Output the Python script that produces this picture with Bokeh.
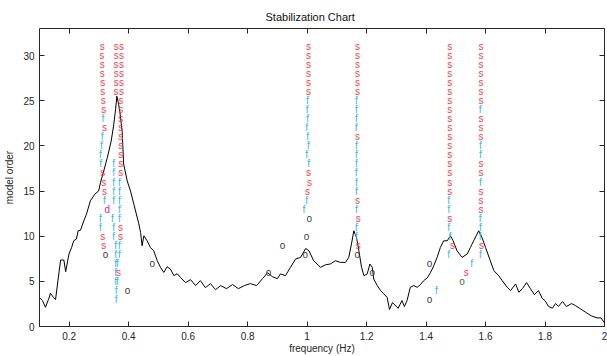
from bokeh.plotting import figure
from bokeh.models import ColumnDataSource, FixedTicker, LinearAxis, Range1d
from bokeh.embed import file_html
from bokeh.resources import INLINE
from bokeh.core.properties import value

# Averaged response spectrum, scaled into model-order units
spec_freq = [0.100, 0.110, 0.120, 0.130, 0.137, 0.147, 0.154, 0.162, 0.171, 0.182,
             0.188, 0.199, 0.208, 0.215, 0.224, 0.230, 0.238, 0.249, 0.258, 0.271,
             0.286, 0.299, 0.305, 0.316, 0.328, 0.341, 0.349, 0.356, 0.360, 0.366,
             0.370, 0.378, 0.383, 0.395, 0.406, 0.417, 0.434, 0.440, 0.445, 0.451,
             0.462, 0.473, 0.484, 0.496, 0.507, 0.518, 0.529, 0.540, 0.552, 0.563,
             0.574, 0.591, 0.608, 0.625, 0.641, 0.658, 0.675, 0.692, 0.709, 0.729,
             0.749, 0.769, 0.789, 0.809, 0.830, 0.850, 0.867, 0.883, 0.900, 0.910,
             0.927, 0.944, 0.961, 0.978, 0.995, 1.006, 1.022, 1.045, 1.062, 1.078,
             1.095, 1.112, 1.129, 1.140, 1.149, 1.157, 1.166, 1.174, 1.183, 1.191,
             1.202, 1.211, 1.219, 1.224, 1.236, 1.247, 1.258, 1.269, 1.277, 1.287,
             1.306, 1.319, 1.327, 1.336, 1.347, 1.359, 1.370, 1.381, 1.392, 1.404,
             1.415, 1.426, 1.437, 1.448, 1.459, 1.471, 1.482, 1.491, 1.504, 1.521,
             1.538, 1.549, 1.560, 1.577, 1.588, 1.600, 1.616, 1.628, 1.644, 1.656,
             1.673, 1.684, 1.701, 1.712, 1.724, 1.738, 1.751, 1.764, 1.778, 1.791,
             1.800, 1.812, 1.825, 1.835, 1.845, 1.859, 1.872, 1.889, 1.902, 1.916,
             1.936, 1.956, 1.975, 1.988, 2.000]
spec_level = [3.20, 2.87, 2.13, 2.98, 3.68, 3.20, 2.98, 5.08, 7.36, 7.36,
              6.07, 8.02, 8.75, 9.49, 9.68, 10.60, 10.67, 11.70, 12.44, 13.91,
              14.65, 15.01, 15.93, 17.22, 18.69, 20.53, 22.19, 24.06, 25.50, 24.61,
              23.84, 21.63, 17.99, 16.11, 15.01, 13.58, 11.37, 10.41, 8.94, 10.04,
              9.49, 8.75, 8.39, 7.28, 6.55, 5.99, 6.62, 6.37, 5.63, 5.85,
              5.44, 4.86, 5.19, 4.53, 5.08, 4.30, 4.75, 4.08, 4.53, 4.19,
              4.64, 4.19, 4.53, 4.75, 4.53, 5.30, 5.96, 5.52, 5.30, 5.82,
              5.63, 6.55, 7.47, 7.65, 8.64, 8.39, 7.28, 6.55, 6.84, 6.92,
              7.28, 7.10, 7.10, 7.65, 9.13, 10.60, 9.86, 8.39, 6.55, 5.63,
              5.82, 6.92, 6.55, 5.26, 4.53, 3.97, 3.61, 3.23, 1.88, 2.65,
              2.02, 2.87, 2.21, 2.87, 4.34, 4.53, 4.34, 4.64, 5.08, 5.38,
              5.99, 6.73, 7.65, 8.75, 9.49, 9.49, 10.04, 9.49, 8.39, 7.65,
              8.02, 8.75, 9.49, 10.60, 9.86, 8.75, 7.28, 6.18, 5.63, 5.08,
              4.34, 3.97, 4.71, 3.79, 4.19, 4.86, 4.19, 3.53, 3.97, 3.09,
              2.87, 2.21, 2.02, 2.54, 2.23, 2.76, 2.21, 2.54, 2.32, 2.02,
              1.59, 1.17, 0.95, 0.95, 0.40]

# Pole columns: frequency, model order and stability code
# (s = stable, f = stable frequency, d = stable damping, o = new pole)
mode1_freq = [0.311, 0.309, 0.311, 0.311, 0.313, 0.313, 0.314, 0.316, 0.313, 0.319,
              0.311, 0.308, 0.305, 0.306, 0.313, 0.316, 0.319, 0.318, 0.328, 0.305,
              0.305, 0.313, 0.316, 0.322]
mode1_order = [31, 30, 29, 28, 27, 26, 25, 24, 23, 22, 21, 20, 19, 18, 17, 16, 15, 14,
               13, 12, 11, 10, 9, 8]
mode1_code = "ssssssssfsffffsssfdffsso"

mode2_freq = [0.358, 0.358, 0.357, 0.358, 0.358, 0.357, 0.349, 0.349, 0.349, 0.349,
              0.349, 0.345, 0.349, 0.349, 0.356, 0.356, 0.356, 0.356, 0.356, 0.358,
              0.358]
mode2_order = [31, 30, 29, 28, 27, 26, 18, 17, 16, 15, 14, 12, 11, 10, 9, 8, 7, 6, 5, 4, 3]
mode2_code = "ssssssfffffffffffffff"

mode3_freq = [0.376, 0.376, 0.376, 0.376, 0.376, 0.376, 0.373, 0.373, 0.373, 0.373,
              0.373, 0.373, 0.373, 0.373, 0.373, 0.369, 0.369, 0.369, 0.369, 0.369,
              0.372, 0.372, 0.369, 0.369, 0.362, 0.366, 0.362]
mode3_order = [31, 30, 29, 28, 27, 26, 25, 24, 23, 22, 21, 20, 19, 18, 17, 16, 15, 14,
               13, 12, 11, 10, 9, 8, 7, 6, 5]
mode3_code = "sssssssssssssssfffffssfffsf"

mode4_freq = [1.005, 1.005, 1.005, 1.005, 1.005, 1.005, 1.001, 1.000, 1.002, 0.998,
              1.002, 1.004, 0.998, 1.005, 1.005, 1.008, 1.001, 0.998, 0.989, 1.007,
              0.998, 0.994]
mode4_order = [31, 30, 29, 28, 27, 26, 25, 24, 23, 22, 21, 20, 19, 18, 17, 16, 15, 14,
               13, 12, 10, 8]
mode4_code = "ssssssffffffffsssffooo"

mode5_freq = [1.169, 1.169, 1.169, 1.169, 1.169, 1.169, 1.166, 1.166, 1.166, 1.165,
              1.169, 1.166, 1.166, 1.166, 1.165, 1.166, 1.166, 1.169, 1.166, 1.172,
              1.166, 1.166, 1.172, 1.169]
mode5_order = [31, 30, 29, 28, 27, 26, 25, 24, 23, 22, 21, 20, 19, 18, 17, 16, 15, 14,
               13, 12, 11, 10, 9, 8]
mode5_code = "ssssssffffsffffffsfsffso"

mode6_freq = [1.480, 1.480, 1.480, 1.480, 1.480, 1.480, 1.480, 1.480, 1.480, 1.480,
              1.480, 1.480, 1.480, 1.480, 1.480, 1.480, 1.480, 1.476, 1.476, 1.480,
              1.476, 1.480, 1.489, 1.476]
mode6_order = [31, 30, 29, 28, 27, 26, 25, 24, 23, 22, 21, 20, 19, 18, 17, 16, 15, 14,
               13, 12, 11, 10, 9, 8]
mode6_code = "sssssssssssssssssffsffsf"

mode7_freq = [1.585, 1.585, 1.585, 1.585, 1.585, 1.585, 1.585, 1.582, 1.585, 1.585,
              1.585, 1.583, 1.583, 1.585, 1.585, 1.583, 1.585, 1.585, 1.585, 1.582,
              1.583, 1.582, 1.586, 1.583]
mode7_order = [31, 30, 29, 28, 27, 26, 25, 24, 23, 22, 21, 20, 19, 18, 17, 16, 15, 14,
               13, 12, 11, 10, 9, 8]
mode7_code = "sssssssfsssffssfsssfffsf"

# Isolated poles
loose_freq = [0.396, 0.479, 0.870, 0.917, 1.219, 1.412, 1.435, 1.412, 1.535, 1.553, 1.521]
loose_order = [4, 7, 6, 9, 6, 7, 4, 3, 6, 7, 5]
loose_code = "oooooofosfg"

x_ticks = [0.2, 0.4, 0.6, 0.8, 1.0, 1.2, 1.4, 1.6, 1.8, 2.0]
x_tick_labels = ["0.2", "0.4", "0.6", "0.8", "1", "1.2", "1.4", "1.6", "1.8", "2"]
y_ticks = [0, 5, 10, 15, 20, 25, 30]

code_text = {"s": "s", "f": "f", "d": "d", "o": "o", "g": "o"}
code_color = {"s": "#ee3d4a", "f": "#36b8ee", "d": "#e0219b", "o": "#3a3a3a", "g": "#1d7a3c"}

xs, ys, letters, colors = [], [], [], []
for fr, od, cd in [(mode1_freq, mode1_order, mode1_code),
                   (mode2_freq, mode2_order, mode2_code),
                   (mode3_freq, mode3_order, mode3_code),
                   (mode4_freq, mode4_order, mode4_code),
                   (mode5_freq, mode5_order, mode5_code),
                   (mode6_freq, mode6_order, mode6_code),
                   (mode7_freq, mode7_order, mode7_code),
                   (loose_freq, loose_order, loose_code)]:
    for f, o, c in zip(fr, od, cd):
        xs.append(f)
        ys.append(o)
        letters.append(code_text[c])
        colors.append(code_color[c])

poles = ColumnDataSource(dict(x=xs, y=ys, letter=letters, color=colors))

AX = "#262626"
FONT = "Liberation Sans"

p = figure(width=607, height=356, output_backend="svg", toolbar_location=None,
           x_range=Range1d(0.1, 2.0), y_range=Range1d(0, 33),
           min_border_left=39, min_border_right=3, min_border_top=28, min_border_bottom=30,
           title="Stabilization Chart")
p.title.align = "left"
p.title.text_font = FONT
p.title.text_font_size = "11px"
p.title.text_font_style = "normal"
p.title.text_color = "#111111"
p.title.offset = 226
p.title.standoff = 12
p.outline_line_color = None
p.grid.visible = False
p.background_fill_color = "white"

p.xaxis.ticker = FixedTicker(ticks=x_ticks)
p.xaxis.major_label_overrides = {t: s for t, s in zip(x_ticks, x_tick_labels)}
p.yaxis.ticker = FixedTicker(ticks=y_ticks)
p.xaxis.axis_label = "frequency (Hz)"
p.yaxis.axis_label = "model order"
for ax in (p.xaxis[0], p.yaxis[0]):
    ax.axis_line_color = AX
    ax.major_tick_line_color = AX
    ax.major_tick_in = 5
    ax.major_tick_out = 0
    ax.minor_tick_line_color = None
    ax.major_label_text_font = FONT
    ax.major_label_text_font_size = "10px"
    ax.major_label_text_color = AX
    ax.axis_label_text_font = FONT
    ax.axis_label_text_font_size = "10px"
    ax.axis_label_text_font_style = "normal"
    ax.axis_label_text_color = AX
p.xaxis.major_label_standoff = 5
p.xaxis.axis_label_standoff = 0
p.yaxis.major_label_standoff = 5
p.yaxis.axis_label_standoff = 5

# Box edges with inward ticks on the top and right (no labels)
top_ax = LinearAxis(ticker=FixedTicker(ticks=x_ticks),
                    major_label_overrides={t: "" for t in x_ticks},
                    major_label_text_color=None, major_label_text_font_size="1px",
                    major_label_standoff=0, major_tick_in=5, major_tick_out=0,
                    minor_tick_line_color=None, axis_line_color=AX, major_tick_line_color=AX)
right_ax = LinearAxis(ticker=FixedTicker(ticks=y_ticks),
                      major_label_overrides={t: "" for t in y_ticks},
                      major_label_text_color=None, major_label_text_font_size="1px",
                      major_label_standoff=0, major_tick_in=5, major_tick_out=0,
                      minor_tick_line_color=None, axis_line_color=AX, major_tick_line_color=AX)
p.add_layout(top_ax, "above")
p.add_layout(right_ax, "right")

p.line(spec_freq, spec_level, line_color="black", line_width=1)

p.text(x="x", y="y", text="letter", source=poles, text_color="color",
       text_font=value(FONT), text_font_size="10px",
       text_align="center", text_baseline="middle")

open("out.html", "w").write(file_html(p, INLINE))
